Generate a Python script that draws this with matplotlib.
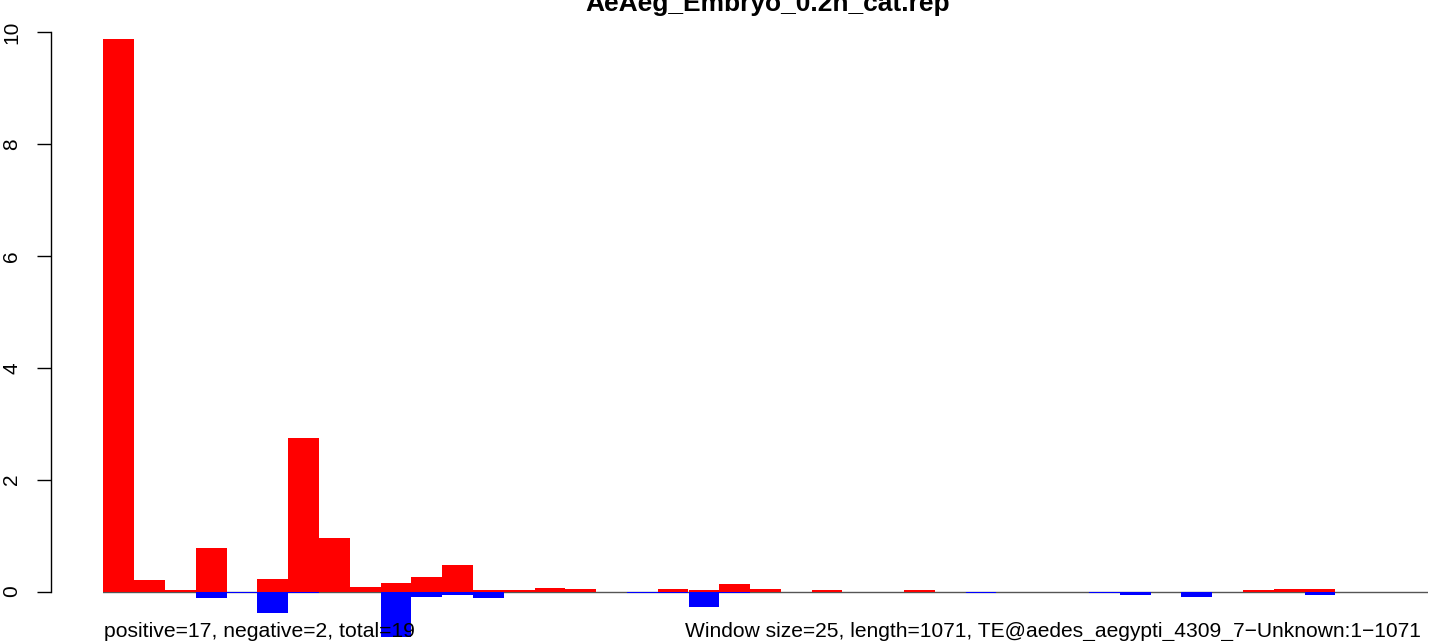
import matplotlib
matplotlib.use("Agg")
import matplotlib.pyplot as plt
import numpy as np

plt.rcParams['font.family'] = ['Liberation Sans', 'DejaVu Sans']

title = "AeAeg_Embryo_0.2h_cat.rep"
left_note = "positive=17, negative=2, total=19"
right_note = "Window size=25, length=1071, TE@aedes_aegypti_4309_7\u2212Unknown:1\u22121071"

pos_vals = [9.89, 0.20, 0.02, 0.77, 0.00, 0.23, 2.74, 0.95, 0.08, 0.15, 0.26, 0.47, 0.02, 0.02,
            0.07, 0.05, 0.00, 0.00, 0.05, 0.02, 0.14, 0.05, 0.00, 0.02, 0.00, 0.00, 0.02, 0.00,
            0.00, 0.00, 0.00, 0.00, 0.00, 0.00, 0.00, 0.00, 0.00, 0.02, 0.05, 0.05, 0.00, 0.00, 0.00]
neg_vals = [0.00, 0.00, 0.00, -0.12, -0.03, -0.38, -0.03, 0.00, 0.00, -0.81, -0.10, -0.06, -0.12, 0.00,
            0.00, 0.00, 0.00, -0.03, -0.02, -0.28, -0.02, 0.00, 0.00, 0.00, 0.00, 0.00, 0.00, 0.00,
            -0.03, 0.00, 0.00, 0.00, -0.02, -0.06, 0.00, -0.10, 0.00, 0.00, 0.00, -0.06, 0.00, 0.00, 0.00]
yticks = [0, 2, 4, 6, 8, 10]

W, H = 1429, 641
fig = plt.figure(figsize=(W / 100, H / 100), dpi=100)
x0, x1 = 103.3, 1427.7
ax = fig.add_axes([x0 / W, 0, (x1 - x0) / W, 1])
n = len(pos_vals)
idx = np.arange(n)
ax.set_xlim(0, n)
y0px, y10px = 591.5, 32.5
ppu = (y0px - y10px) / 10.0
ax.set_ylim(-(H - y0px) / ppu, 10 + y10px / ppu)

ax.axhline(0, color='#555555', lw=1.0, zorder=1)
ax.bar(idx, pos_vals, width=1.0, align='edge', color='#FF0000', lw=0, zorder=2)
ax.bar(idx, neg_vals, width=1.0, align='edge', color='#0000FF', lw=0, zorder=2)

for s in ['top', 'right', 'bottom']:
    ax.spines[s].set_visible(False)
ax.spines['left'].set_position(('outward', (x0 - 51) * 0.72))
ax.spines['left'].set_bounds(0, 10)
ax.spines['left'].set_linewidth(1.0)
ax.set_xticks([])
ax.set_yticks(yticks)
ax.set_yticklabels([str(t) for t in yticks], rotation=90, va='center', fontsize=15)
ax.tick_params(axis='y', length=10, width=1.0, pad=11.5)
ax.patch.set_alpha(0)

fig.text(768 / W, 1 - 11 / H, title, ha='center', va='baseline', fontsize=19, fontweight='bold')
fig.text(104 / W, 1 - 637 / H, left_note, ha='left', va='baseline', fontsize=15.2, zorder=5)
fig.text(1421 / W, 1 - 637 / H, right_note, ha='right', va='baseline', fontsize=15.1, zorder=5)

fig.savefig("out.png", dpi=100)
